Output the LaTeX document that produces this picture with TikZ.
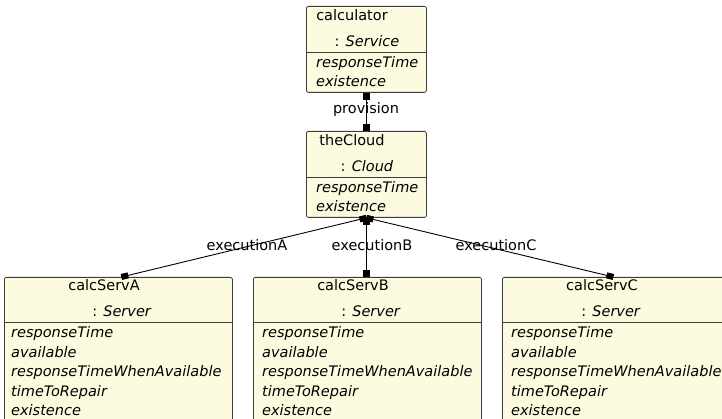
\documentclass[tikz,border=0pt]{standalone}
\usepackage{fontspec}
\setmainfont{DejaVu Sans}
\usetikzlibrary{arrows.meta}
\definecolor{objfill}{RGB}{252,250,223}
\definecolor{objline}{RGB}{60,60,60}
\newcommand{\objfont}{\fontsize{14.5}{17}\selectfont}
\tikzset{
  obj/.style={draw=objline,fill=objfill,line width=0.8pt,rounded corners=2pt,inner sep=0pt,anchor=north west},
  hdr/.style={inner sep=0pt,anchor=mid},
  attr/.style={inner sep=0pt,anchor=mid west,font=\objfont\itshape},
  lbl/.style={inner sep=0pt,anchor=mid},
  link/.style={{Square[length=7pt,width=6pt]}-{Square[length=7pt,width=6pt]},line width=0.9pt}
}
\begin{document}
\begin{tikzpicture}[x=1pt,y=-1pt,font=\objfont]
      \useasboundingbox (0,0) rectangle (722,419);
      % service and cloud
      \node[obj,minimum width=120pt,minimum height=86pt] (calc) at (306,6) {};
      \node[hdr] (calcN) at (352,18) {calculator};
      \node[hdr] (calcT) at (367,44) {: \textit{Service}};
      \draw[objline,line width=0.8pt] (306,52) -- (426,52);
      \node[attr] (calcR) at (316,65) {responseTime};
      \node[attr] (calcE) at (316,84) {existence};
      \node[obj,minimum width=120pt,minimum height=86pt] (cloud) at (306,131) {};
      \node[hdr] (cloudN) at (352,143) {theCloud};
      \node[hdr] (cloudT) at (367,169) {: \textit{Cloud}};
      \draw[objline,line width=0.8pt] (306,177) -- (426,177);
      \node[attr] (cloudR) at (316,190) {responseTime};
      \node[attr] (cloudE) at (316,209) {existence};
      % servers
      \node[obj,minimum width=228pt,minimum height=160pt] (servA) at (4,277) {};
      \node[hdr] (servAN) at (104,288) {calcServA};
      \node[hdr] (servAT) at (122,314) {: \textit{Server}};
      \draw[objline,line width=0.8pt] (4,322) -- (232,322);
      \node[attr] (servA1) at (11,335) {responseTime};
      \node[attr] (servA2) at (11,354.5) {available};
      \node[attr] (servA3) at (11,374) {responseTimeWhenAvailable};
      \node[attr] (servA4) at (11,393.5) {timeToRepair};
      \node[attr] (servA5) at (11,413) {existence};
      \node[obj,minimum width=228pt,minimum height=160pt] (servB) at (253,277) {};
      \node[hdr] (servBN) at (353,288) {calcServB};
      \node[hdr] (servBT) at (371,314) {: \textit{Server}};
      \draw[objline,line width=0.8pt] (253,322) -- (481,322);
      \node[attr] (servB1) at (262,335) {responseTime};
      \node[attr] (servB2) at (262,354.5) {available};
      \node[attr] (servB3) at (262,374) {responseTimeWhenAvailable};
      \node[attr] (servB4) at (262,393.5) {timeToRepair};
      \node[attr] (servB5) at (262,413) {existence};
      \node[obj,minimum width=228pt,minimum height=160pt] (servC) at (502,277) {};
      \node[hdr] (servCN) at (602,288) {calcServC};
      \node[hdr] (servCT) at (611,314) {: \textit{Server}};
      \draw[objline,line width=0.8pt] (502,322) -- (730,322);
      \node[attr] (servC1) at (511,335) {responseTime};
      \node[attr] (servC2) at (511,354.5) {available};
      \node[attr] (servC3) at (511,374) {responseTimeWhenAvailable};
      \node[attr] (servC4) at (511,393.5) {timeToRepair};
      \node[attr] (servC5) at (511,413) {existence};
      % links
      \draw[link] (calc.south) -- (cloud.north);
      \node[lbl] (prov) at (366,111) {provision};
      \draw[link] (cloud.south) -- ([xshift=3pt]servA.north);
      \draw[link] (cloud.south) -- ([xshift=-1pt]servB.north);
      \draw[link] (cloud.south) -- ([xshift=-3pt]servC.north);
      \node[lbl] (execA) at (247,248) {executionA};
      \node[lbl] (execB) at (372,248) {executionB};
      \node[lbl] (execC) at (496,248) {executionC};
    \end{tikzpicture}
\end{document}
